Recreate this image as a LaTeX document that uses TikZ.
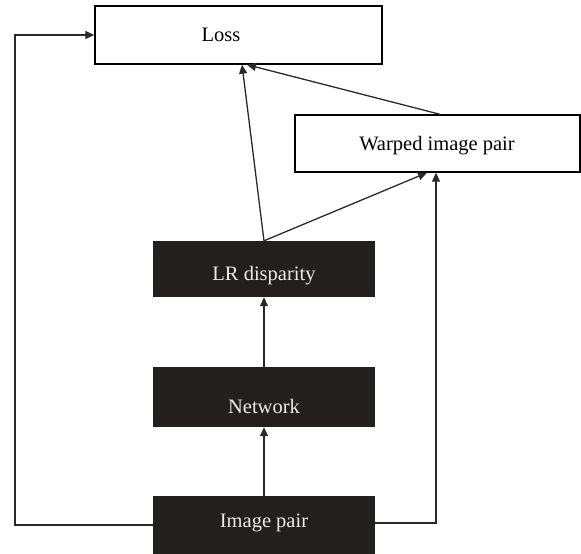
\documentclass[tikz,border=0pt]{standalone}
\usepackage{fontspec}
\setmainfont{Liberation Serif}
\usetikzlibrary{arrows.meta,calc}
\definecolor{boxdark}{HTML}{221F1E}
\definecolor{linegray}{HTML}{2A2A2A}
\begin{document}
\begin{tikzpicture}[x=1pt,y=-1pt,
  every node/.style={font=\fontsize{20.5}{24}\selectfont},
  wbox/.style={draw=black,line width=1.4pt,fill=white,rectangle,inner sep=0pt},
  dbox/.style={fill=boxdark,draw=none,rectangle,inner sep=0pt,text=white!92!black},
  arr/.style={draw=linegray,line width=1.3pt,-{Triangle[length=9pt,width=8pt]}},
  ln/.style={draw=linegray,line width=1.3pt}]
\useasboundingbox (0,0) rectangle (581,554);
\node[wbox,minimum width=287pt,minimum height=58pt] (loss) at (238.5,35) {};
\node at (221,35) {Loss};
\node[wbox,minimum width=285pt,minimum height=57pt] (warp) at (437.5,143.5) {};
\node at (437,146) {Warped image pair};
\node[dbox,minimum width=222pt,minimum height=56pt] (lr) at (264,269) {};
\node[text=white!92!black] at (264,276) {LR disparity};
\node[dbox,minimum width=222pt,minimum height=60pt] (net) at (264,397) {};
\node[text=white!92!black] at (264,406) {Network};
\node[dbox,minimum width=222pt,minimum height=58pt] (img) at (264,525) {};
\node[text=white!92!black] at (264,523) {Image pair};
\coordinate (lc) at (15,525);
\draw[arr] (img.west) -- (lc) |- (loss.west);
\draw[arr] ([yshift=2]img.east) -| ([xshift=-1.5]warp.south);
\draw[arr] (img.north) -- (net.south);
\draw[arr] (net.north) -- (lr.south);
\draw[arr] (lr.north) -- ([xshift=3.5]loss.south);
\draw[arr] (lr.north) -- ([xshift=-10.5]warp.south);
\draw[arr] ([xshift=2.5]warp.north) -- ([xshift=8.5]loss.south);
\end{tikzpicture}
\end{document}
